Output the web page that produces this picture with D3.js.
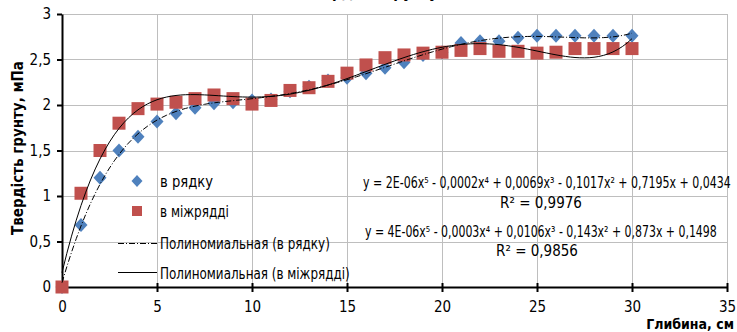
<!DOCTYPE html>
<html lang="uk">
  <head>
    <script src="https://d3js.org/d3.v7.min.js"></script>
    <meta charset="utf-8">
    <title>Твердість грунту</title>
    <style>
      body { margin: 0; background: #fff; }
      text { font-family: "Liberation Sans Narrow", "DejaVu Sans Condensed", sans-serif; fill: #000; }
    </style>
  </head>
  <body>
    <svg id="chart" width="737" height="332"></svg>
    <script type="text/javascript">

    // depth, cm
    var depth = [0,1,2,3,4,5,6,7,8,9,10,11,12,13,14,15,16,17,18,19,20,21,22,23,24,25,26,27,28,29,30];
    // soil hardness in the row
    var inRow = [0,0.68,1.2,1.5,1.65,1.82,1.91,1.97,2.02,2.03,2.05,2.06,2.15,2.2,2.27,2.3,2.35,2.41,2.47,2.55,2.58,2.68,2.7,2.7,2.74,2.76,2.76,2.76,2.76,2.76,2.76];
    // soil hardness between rows
    var betweenRows = [0,1.03,1.5,1.8,1.96,2.01,2.03,2.07,2.11,2.07,2.01,2.05,2.16,2.19,2.26,2.35,2.44,2.52,2.55,2.57,2.58,2.6,2.62,2.59,2.59,2.57,2.58,2.62,2.62,2.62,2.62];

    var xTicks = [0,5,10,15,20,25,30,35];
    var yTicks = [0,0.5,1,1.5,2,2.5,3];

    var legendNames = ["в рядку", "в міжрядді", "Полиномиальная (в рядку)", "Полиномиальная (в міжрядді)"];
    var equations = [
      "y = 2E-06x⁵ - 0,0002x⁴ + 0,0069x³ - 0,1017x² + 0,7195x + 0,0434",
      "y = 4E-06x⁵ - 0,0003x⁴ + 0,0106x³ - 0,143x² + 0,873x + 0,1498"
    ];
    var rSquared = ["R² = 0,9976", "R² = 0,9856"];

    var blue = "#4F81BD";
    var red = "#C0504D";
    var grid = "#BEBEBE";

    var svg = d3.select("#chart");

    var x = d3.scaleLinear().domain([0,35]).range([62,727]);
    var y = d3.scaleLinear().domain([0,3]).range([287,14]);

    var comma = function(d) { return String(d).replace(".", ","); };

    // squeeze a text horizontally to a given width (Calibri is narrower than what we have)
    var squeeze = function(sel, px, py, w) {
      var natural = sel.node().getComputedTextLength();
      var k = Math.min(1, w / natural);
      sel.attr("x", 0).attr("y", 0)
        .attr("transform", "translate(" + px + "," + py + ") scale(" + k + ",1)");
    };

    // gridlines
    svg.append("g").selectAll("line").data(yTicks.slice(1)).enter().append("line")
      .attr("x1", x(0)).attr("x2", x(35))
      .attr("y1", function(d) { return Math.round(y(d)) + 0.5; })
      .attr("y2", function(d) { return Math.round(y(d)) + 0.5; })
      .attr("stroke", grid).attr("stroke-width", 1);
    svg.append("g").selectAll("line").data(xTicks.slice(1)).enter().append("line")
      .attr("y1", y(0)).attr("y2", y(3))
      .attr("x1", function(d) { return Math.round(x(d)) + 0.5; })
      .attr("x2", function(d) { return Math.round(x(d)) + 0.5; })
      .attr("stroke", grid).attr("stroke-width", 1);

    // axes
    var yAxis = svg.append("g")
      .attr("transform", "translate(" + x(0) + ",0)")
      .call(d3.axisLeft(y).tickValues(yTicks).tickFormat(comma).tickSize(5).tickPadding(6).tickSizeOuter(0));
    var xAxis = svg.append("g")
      .attr("transform", "translate(0," + y(0) + ")")
      .call(d3.axisBottom(x).tickValues(xTicks).tickSize(5).tickPadding(9).tickSizeOuter(0));

    [xAxis, yAxis].forEach(function(a) {
      a.select(".domain").attr("stroke", "#000").attr("stroke-width", 2);
      a.selectAll(".tick line").attr("stroke", "#000").attr("stroke-width", 2);
      a.selectAll(".tick text").attr("font-size", 15)
        .attr("font-family", "'Liberation Sans Narrow', sans-serif");
    });
    xAxis.selectAll(".tick line").attr("y1", -4);

    // least squares polynomial (trendline, degree 5)
    var polyFit = function(xv, yv, deg) {
      var s = 30;
      var n = deg + 1, A = [], b = [];
      for (var i = 0; i < n; i++) {
        A.push(new Array(n).fill(0));
        b.push(0);
      }
      xv.forEach(function(xx, k) {
        var t = xx / s;
        for (var i = 0; i < n; i++) {
          b[i] += Math.pow(t, i) * yv[k];
          for (var j = 0; j < n; j++) A[i][j] += Math.pow(t, i + j);
        }
      });
      for (var c = 0; c < n; c++) {
        var p = c;
        for (var r = c + 1; r < n; r++) if (Math.abs(A[r][c]) > Math.abs(A[p][c])) p = r;
        var tmp = A[c]; A[c] = A[p]; A[p] = tmp;
        var tb = b[c]; b[c] = b[p]; b[p] = tb;
        for (var r2 = c + 1; r2 < n; r2++) {
          var f = A[r2][c] / A[c][c];
          for (var j2 = c; j2 < n; j2++) A[r2][j2] -= f * A[c][j2];
          b[r2] -= f * b[c];
        }
      }
      var coef = new Array(n).fill(0);
      for (var r3 = n - 1; r3 >= 0; r3--) {
        var sum = b[r3];
        for (var j3 = r3 + 1; j3 < n; j3++) sum -= A[r3][j3] * coef[j3];
        coef[r3] = sum / A[r3][r3];
      }
      return function(xx) {
        var t = xx / s, v = 0;
        for (var i = n - 1; i >= 0; i--) v = v * t + coef[i];
        return v;
      };
    };

    var fitRow = polyFit(depth, inRow, 5);
    var fitBetween = polyFit(depth, betweenRows, 5);
    var curveX = d3.range(0, 30.01, 0.25);

    // markers: diamonds then squares
    var diamond = function(cx, cy, w, h) {
      return "M" + cx + "," + (cy - h / 2) + "L" + (cx + w / 2) + "," + cy +
             "L" + cx + "," + (cy + h / 2) + "L" + (cx - w / 2) + "," + cy + "Z";
    };

    svg.append("g").selectAll("path").data(depth).enter().append("path")
      .attr("d", function(d, i) { return diamond(x(d), y(inRow[i]), 13, 14); })
      .attr("fill", blue);

    svg.append("g").selectAll("rect").data(depth).enter().append("rect")
      .attr("x", function(d) { return x(d) - 6.5; })
      .attr("y", function(d, i) { return y(betweenRows[i]) - 6.5; })
      .attr("width", 13).attr("height", 13)
      .attr("fill", red);

    // trendlines
    var line = d3.line();
    svg.append("path")
      .attr("d", line(curveX.map(function(v) { return [x(v), y(fitRow(v))]; })))
      .attr("fill", "none").attr("stroke", "#000").attr("stroke-width", 1)
      .attr("stroke-dasharray", "6,2,1,2");
    svg.append("path")
      .attr("d", line(curveX.map(function(v) { return [x(v), y(fitBetween(v))]; })))
      .attr("fill", "none").attr("stroke", "#000").attr("stroke-width", 1);

    // legend
    var legend = svg.append("g").attr("class", "legend");
    legend.append("path").attr("d", diamond(137, 181, 11, 12)).attr("fill", blue);
    legend.append("rect").attr("x", 132).attr("y", 206).attr("width", 10).attr("height", 10).attr("fill", red);
    legend.append("line").attr("x1", 118).attr("x2", 157).attr("y1", 243.5).attr("y2", 243.5)
      .attr("stroke", "#000").attr("stroke-dasharray", "6,2,1,2");
    legend.append("line").attr("x1", 118).attr("x2", 157).attr("y1", 272.5).attr("y2", 272.5)
      .attr("stroke", "#000");
    var legendY = [187, 217, 249, 279];
    var legendW = [53, 69, 170, 190];
    legendNames.forEach(function(name, i) {
      var t = legend.append("text").attr("font-size", 15).text(name);
      squeeze(t, 160, legendY[i], legendW[i]);
    });

    // equations
    var eqX = [363, 365], eqY = [188, 237], eqW = [368, 352];
    equations.forEach(function(eq, i) {
      var t = svg.append("text").attr("font-size", 16).text(eq);
      squeeze(t, eqX[i], eqY[i], eqW[i]);
    });
    var rX = [541, 537], rY = [208, 256];
    rSquared.forEach(function(r, i) {
      svg.append("text").attr("x", rX[i]).attr("y", rY[i])
        .attr("font-size", 15).attr("text-anchor", "middle")
        .text(r);
    });

    // titles
    svg.append("text").attr("x", 415).attr("y", -2.5)
      .attr("text-anchor", "middle").attr("font-size", 15).attr("font-weight", "bold")
      .text("Твердість грунту по глибині");
    svg.append("text")
      .attr("transform", "translate(23,148) rotate(-90)")
      .attr("text-anchor", "middle").attr("font-size", 15).attr("font-weight", "bold")
      .text("Твердість грунту, мПа");
    svg.append("text").attr("x", 734).attr("y", 329)
      .attr("text-anchor", "end").attr("font-size", 14).attr("font-weight", "bold")
      .text("Глибина, см");

    </script>
  </body>
</html>
